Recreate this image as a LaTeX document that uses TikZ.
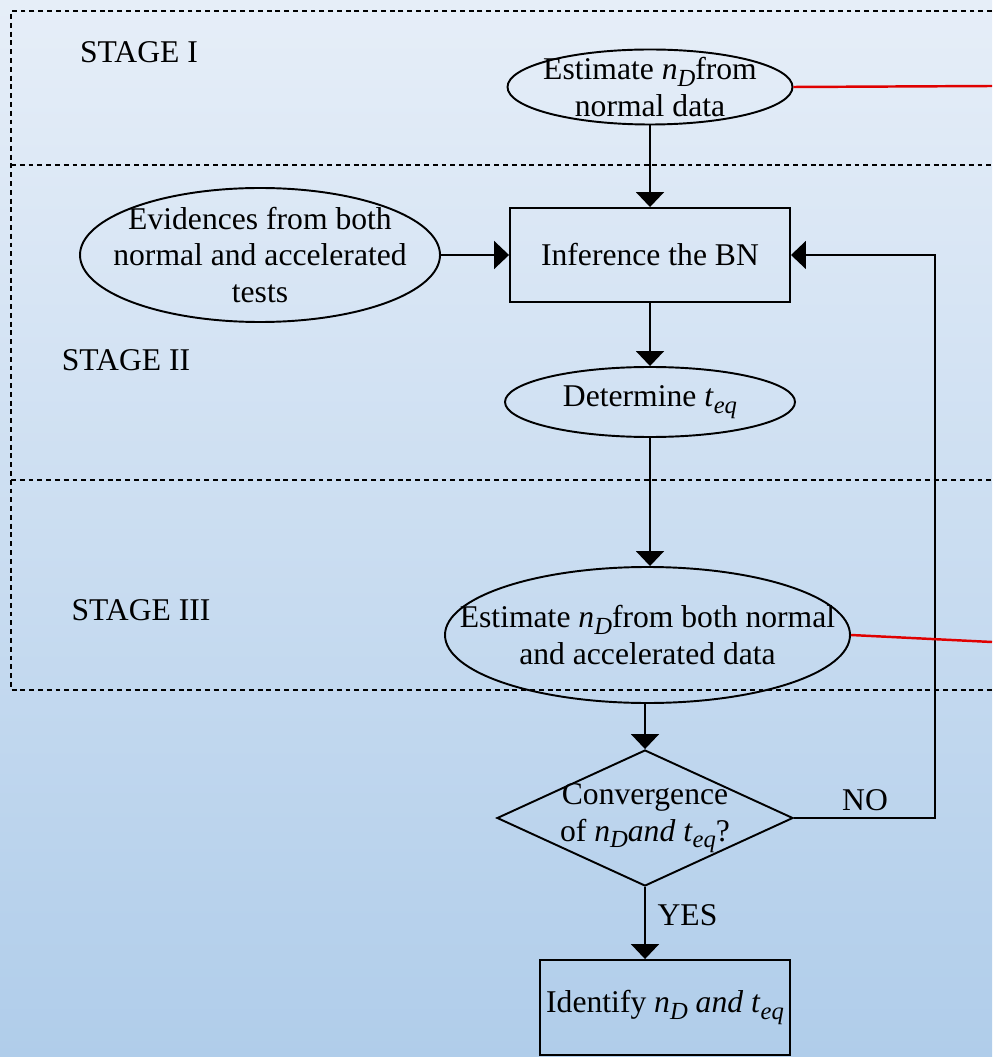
\documentclass[tikz,border=0pt]{standalone}
\usepackage{fontspec}
\setmainfont{Liberation Serif}
\usepackage{xcolor}
\usetikzlibrary{shapes.geometric,positioning,arrows.meta}

\definecolor{bgtop}{HTML}{E6EEF8}
\definecolor{bgbot}{HTML}{B0CDEA}
\definecolor{linkred}{HTML}{E00000}

\newcommand{\nD}{\textit{n}\raisebox{-0.45ex}{\fontsize{14}{14}\selectfont\textit{D}}}
\newcommand{\teq}{\textit{t}\raisebox{-0.45ex}{\fontsize{14}{14}\selectfont\textit{eq}}}

\begin{document}
\begin{tikzpicture}[
    ->,
    >={Triangle[width=5.6mm,length=3mm]},
    line width=1.1pt,
    font=\fontsize{18}{21}\selectfont
]

\tikzstyle{oval}=[
    ellipse,
    draw,
    inner sep=0pt
]
\tikzstyle{proc}=[
    rectangle,
    draw,
    inner sep=0pt,
    align=center
]
\tikzstyle{test}=[
    diamond,
    draw,
    inner sep=0pt
]
\tikzstyle{inside}=[
    align=center,
    inner sep=0pt
]
\tikzstyle{stageline}=[
    -,
    line width=0.9pt,
    dash pattern=on 2.8pt off 2.2pt
]

\useasboundingbox (0,0) rectangle (19.84,-21.14);
\fill[top color=bgtop, bottom color=bgbot, draw=none] (0,0) rectangle (19.84,-21.14);

% stages
\draw[stageline] (19.84,-0.22) -- (0.22,-0.22) -- (0.22,-13.8) -- (19.84,-13.8);
\draw[stageline] (0.22,-3.3) -- (19.84,-3.3);
\draw[stageline] (0.22,-9.6) -- (19.84,-9.6);

\node (s1) at (2.78,-1.04) {STAGE I};
\node (s2) at (2.52,-7.2) {STAGE II};
\node (s3) at (2.82,-12.2) {STAGE III};

\node[oval, minimum width=5.7cm, minimum height=1.5cm,
      label={[inside]center:Estimate \nD from\\normal data}] (est1) at (13,-1.74) {};
\node[proc, minimum width=5.6cm, minimum height=1.88cm] (inf) at (13,-5.1) {Inference the BN};
\node[oval, minimum width=7.2cm, minimum height=2.68cm,
      label={[inside]center:Evidences from both\\normal and accelerated\\tests}] (evid) at (5.2,-5.1) {};
\node[oval, minimum width=5.8cm, minimum height=1.4cm,
      label={[inside]center:Determine \teq}] (det) at (13,-8.04) {};
\node[oval, minimum width=8.1cm, minimum height=2.72cm,
      label={[inside]center:Estimate \nD from both normal\\and accelerated data}] (est2) at (12.95,-12.7) {};
\node[test, minimum width=5.92cm, minimum height=2.72cm,
      label={[inside]center:Convergence\\of \nD\textit{and} \teq?}] (conv) at (12.9,-16.36) {};
\node[proc, minimum width=5cm, minimum height=1.9cm] (iden) at (13.3,-20.15) {Identify \nD{} \textit{and} \teq};

\coordinate (out1) at (19.84,-1.72);
\coordinate (out2) at (19.84,-12.84);
\coordinate (loop) at (18.7,-16.36);

\draw (est1) -- (inf);
\draw (evid) -- (inf);
\draw (inf) -- (det);
\draw (det.south) -- (det.south |- est2.north);
\draw (conv.north |- est2.south) -- (conv.north);
\draw (conv.south) -- (conv.south |- iden.north);
\draw (conv.east) -- (loop) |- (inf.east);

\draw[-, linkred, line width=1.4pt] (est1.east) -- (out1);
\draw[-, linkred, line width=1.4pt] (est2.east) -- (out2);

\node (no) at (17.3,-16.0) {NO};
\node (yes) at (13.75,-18.3) {YES};

\end{tikzpicture}
\end{document}
